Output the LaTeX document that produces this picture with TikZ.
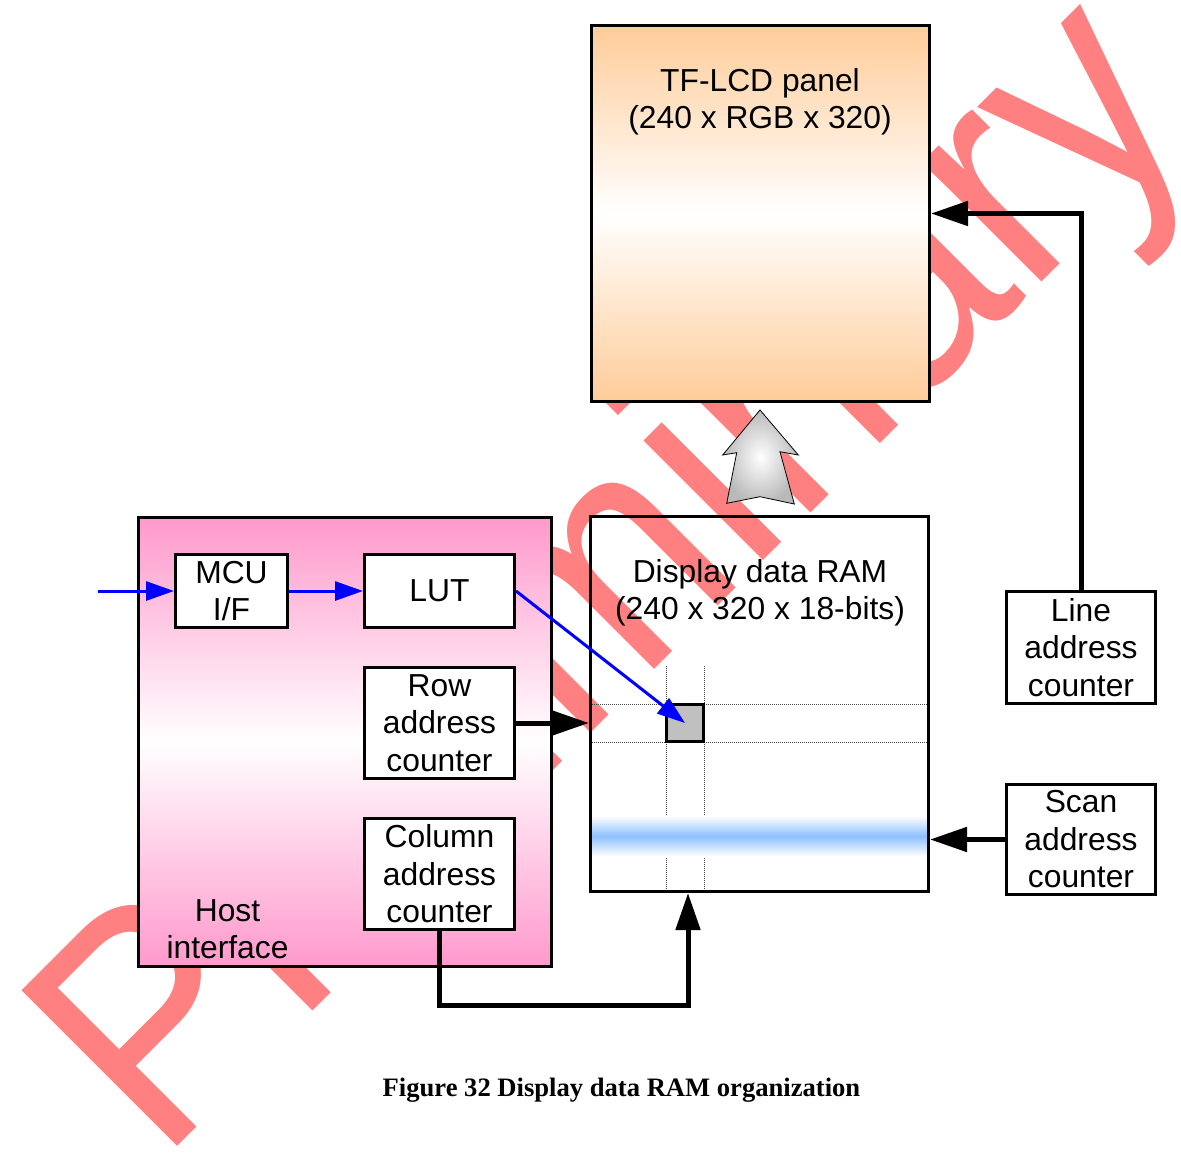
\documentclass[tikz,border=0pt]{standalone}
\usepackage{fontspec}
\setmainfont{Liberation Sans}
\newfontfamily\capfont{Liberation Serif}
\usetikzlibrary{arrows.meta}
\definecolor{wm}{RGB}{255,128,128}
\definecolor{lcdor}{RGB}{255,204,153}
\definecolor{hpink}{RGB}{255,153,204}
\definecolor{bandblue}{RGB}{140,192,255}
\definecolor{cellgray}{RGB}{192,192,192}
\definecolor{arrgray}{RGB}{185,185,185}
\tikzset{
  box/.style={draw, line width=3pt, inner sep=0pt},
  wbox/.style={box, fill=white},
  lbl/.style={inner sep=0pt, align=center, font=\fontsize{31.8}{37.5}\selectfont},
  blk/.style={line width=5pt, -{Triangle[length=37pt,width=24pt]}},
  blu/.style={draw=blue, line width=3pt, -{Triangle[length=28pt,width=19pt]}},
  gridln/.style={line width=1pt, densely dotted, black!75}
}
\begin{document}
\begin{tikzpicture}[x=1pt,y=-1pt]
\useasboundingbox (0,0) rectangle (1181,1153);
\clip (0,0) rectangle (1181,1153);
\fill[white] (0,0) rectangle (1181,1153);

% watermark
\begin{scope}[shift={(160,1164)}, rotate=45, xscale=0.92]
\node[anchor=base west, inner sep=0pt, transform shape, text=wm,
      font=\fontsize{320}{320}\selectfont] (wmark) at (0,0) {Preliminary};
\end{scope}

% big boxes
\node[box, minimum width=413pt, minimum height=449pt,
      top color=hpink, bottom color=hpink, middle color=white] (host) at (345,742) {};
\node[box, minimum width=338pt, minimum height=376pt,
      top color=lcdor, bottom color=lcdor, middle color=white] (lcd) at (760.5,213.5) {};

% RAM grid and scan band
\draw[gridln] (590,704) -- (930,704);
\draw[gridln] (590,742) -- (930,742);
\draw[gridln] (666,666) -- (666,892);
\draw[gridln] (704,666) -- (704,892);
\fill[top color=white, bottom color=bandblue, draw=none] (592,816) rectangle (928,836);
\fill[top color=bandblue, bottom color=white, draw=none] (592,836) rectangle (928,856);

\node[box, minimum width=338pt, minimum height=375pt] (ram) at (759.5,704) {};
\node[box, fill=cellgray, minimum width=37pt, minimum height=37pt] (cell) at (685,723) {};

% inner boxes
\node[wbox, lbl, minimum width=112pt, minimum height=73pt] (mcu) at (231.5,591) {MCU\\I/F};
\node[wbox, lbl, minimum width=150pt, minimum height=73pt] (lut) at (439.5,591) {LUT};
\node[wbox, lbl, minimum width=150pt, minimum height=111pt] (row) at (439.5,723) {Row\\address\\counter};
\node[wbox, lbl, minimum width=150pt, minimum height=111pt] (col) at (439.5,874) {Column\\address\\counter};
\node[wbox, lbl, minimum width=149pt, minimum height=112pt] (line) at (1081,647.5) {Line\\address\\counter};
\node[wbox, lbl, minimum width=149pt, minimum height=110pt] (scan) at (1081,839.5) {Scan\\address\\counter};

% texts
\node[lbl] (lcdt) at (760,102) {TF-LCD panel\\(240 x RGB x 320)};
\node[lbl] (ramt) at (760,593) {Display data RAM\\(240 x 320 x 18-bits)};
\node[lbl] (hostt) at (227.5,929) {Host\\interface};

% gray transfer arrow
\shadedraw[inner color=white, outer color=arrgray, draw=black, line width=0.8pt]
  (760,410) -- (722.7,455) -- (736.7,452.7) -- (726.7,503.3) -- (760,496.7)
  -- (794.3,504) -- (780,451.7) -- (798.3,455) -- cycle;

% black connectors
\draw[blk] (line.north) |- (lcd.east);
\draw[blk] (scan.west) -- (scan.west -| ram.east);
\draw[blk] (row.east) -- (row.east -| ram.west);
\coordinate (colturn) at (688,1005);
\draw[blk] (col.south) |- (colturn) -- (colturn |- ram.south);

% blue data path
\coordinate (hostin) at (98,591);
\draw[blu] (hostin) -- (mcu.west);
\draw[blu] (mcu.east) -- (lut.west);
\draw[blu] (lut.east) -- (cell.center);

% caption
\node[inner sep=0pt, font=\capfont\bfseries\fontsize{26.6}{30}\selectfont] (cap)
  at (621.5,1090.5) {Figure 32 Display data RAM organization};
\end{tikzpicture}
\end{document}
